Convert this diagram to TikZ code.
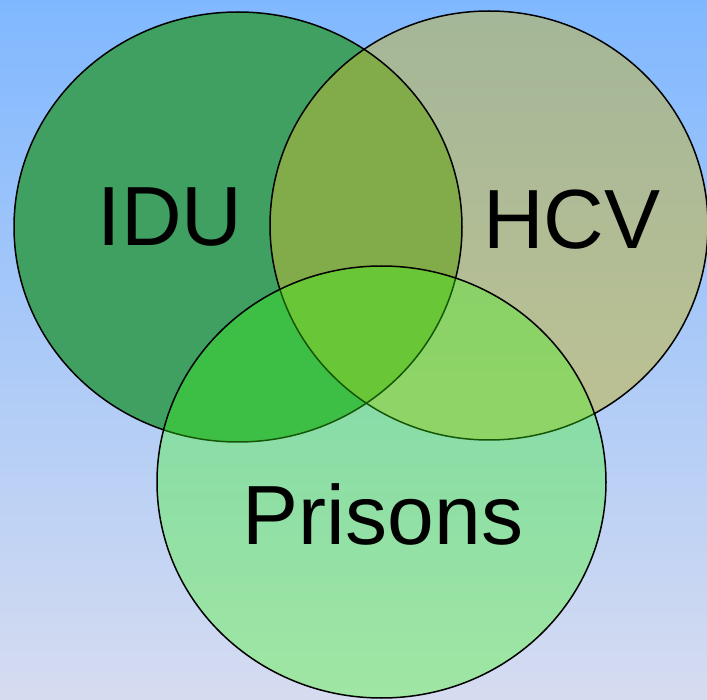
\documentclass[tikz,border=0pt]{standalone}
\usepackage{fontspec}
\setmainfont{Liberation Sans}
\definecolor{bgtop}{RGB}{128,184,255}
\definecolor{bgbot}{RGB}{214,220,240}
\definecolor{idufill}{RGB}{63,160,98}
\definecolor{hcvfill}{RGB}{198,182,50}
\definecolor{prifill}{RGB}{60,250,20}
\tikzset{
  venn/.style={draw=black, line width=1.5pt},
  lbl/.style={font=\fontsize{84}{96}\selectfont, text=black, anchor=base, inner sep=0pt}
}
\begin{document}
\begin{tikzpicture}[x=1pt,y=-1pt]
\useasboundingbox (0,0) rectangle (707,700);
\shade[top color=bgtop, bottom color=bgbot] (0,0) rectangle (707,700);
\fill[idufill] (238,227) ellipse [x radius=224pt, y radius=215pt];
\fill[hcvfill, fill opacity=0.5] (489,225.5) ellipse [x radius=219pt, y radius=214.5pt];
\draw[venn] (238,227) ellipse [x radius=224pt, y radius=215pt];
\draw[venn] (489,225.5) ellipse [x radius=219pt, y radius=214.5pt];
\fill[prifill, fill opacity=0.35] (381.5,482) ellipse [x radius=224.5pt, y radius=216pt];
\draw[venn] (381.5,482) ellipse [x radius=224.5pt, y radius=216pt];
\node[lbl] (idu) at (170,246) {IDU};
\node[lbl] (hcv) at (572,249) {HCV};
\node[lbl] (pri) at (383,544) {Prisons};
\end{tikzpicture}
\end{document}
